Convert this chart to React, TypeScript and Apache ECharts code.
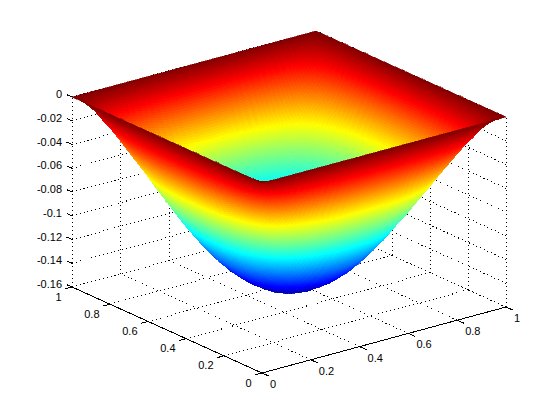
import React, { useEffect, useRef } from "react";
import * as echarts from "echarts";

// surface heights, rows along y (0 .. 1), columns along x (0 .. 1), step 0.05
const GRID = [0, 0.05, 0.1, 0.15, 0.2, 0.25, 0.3, 0.35, 0.4, 0.45, 0.5, 0.55, 0.6, 0.65, 0.7, 0.75, 0.8, 0.85, 0.9, 0.95, 1];
const Z_ROWS = [
  [0,0,0,0,0,0,0,0,0,0,0,0,0,0,0,0,0,0,0,0,0],
  [0,-.0085,-.0156,-.0205,-.0239,-.0265,-.0288,-.0307,-.0319,-.0323,-.0324,-.0323,-.0319,-.0307,-.0288,-.0265,-.0239,-.0205,-.0156,-.0085,0],
  [0,-.0156,-.0273,-.0367,-.0434,-.0487,-.0531,-.0566,-.0589,-.0599,-.0602,-.0599,-.0589,-.0566,-.0531,-.0487,-.0434,-.0367,-.0273,-.0156,0],
  [0,-.0205,-.0367,-.0495,-.0593,-.067,-.0734,-.0783,-.0816,-.0832,-.0836,-.0832,-.0816,-.0783,-.0734,-.067,-.0593,-.0495,-.0367,-.0205,0],
  [0,-.0239,-.0434,-.0593,-.0721,-.0819,-.09,-.0962,-.1003,-.1025,-.1031,-.1025,-.1003,-.0962,-.09,-.0819,-.0721,-.0593,-.0434,-.0239,0],
  [0,-.0265,-.0487,-.067,-.0819,-.0938,-.1033,-.1107,-.1156,-.1182,-.119,-.1182,-.1156,-.1107,-.1033,-.0938,-.0819,-.067,-.0487,-.0265,0],
  [0,-.0288,-.0531,-.0734,-.09,-.1033,-.1139,-.1221,-.1277,-.1307,-.1315,-.1307,-.1277,-.1221,-.1139,-.1033,-.09,-.0734,-.0531,-.0288,0],
  [0,-.0307,-.0566,-.0783,-.0962,-.1107,-.1221,-.1307,-.1368,-.1401,-.1411,-.1401,-.1368,-.1307,-.1221,-.1107,-.0962,-.0783,-.0566,-.0307,0],
  [0,-.0319,-.0589,-.0816,-.1003,-.1156,-.1277,-.1368,-.1431,-.1466,-.1477,-.1466,-.1431,-.1368,-.1277,-.1156,-.1003,-.0816,-.0589,-.0319,0],
  [0,-.0323,-.0599,-.0832,-.1025,-.1182,-.1307,-.1401,-.1466,-.1505,-.1516,-.1505,-.1466,-.1401,-.1307,-.1182,-.1025,-.0832,-.0599,-.0323,0],
  [0,-.0324,-.0602,-.0836,-.1031,-.119,-.1315,-.1411,-.1477,-.1516,-.1529,-.1516,-.1477,-.1411,-.1315,-.119,-.1031,-.0836,-.0602,-.0324,0],
  [0,-.0323,-.0599,-.0832,-.1025,-.1182,-.1307,-.1401,-.1466,-.1505,-.1516,-.1505,-.1466,-.1401,-.1307,-.1182,-.1025,-.0832,-.0599,-.0323,0],
  [0,-.0319,-.0589,-.0816,-.1003,-.1156,-.1277,-.1368,-.1431,-.1466,-.1477,-.1466,-.1431,-.1368,-.1277,-.1156,-.1003,-.0816,-.0589,-.0319,0],
  [0,-.0307,-.0566,-.0783,-.0962,-.1107,-.1221,-.1307,-.1368,-.1401,-.1411,-.1401,-.1368,-.1307,-.1221,-.1107,-.0962,-.0783,-.0566,-.0307,0],
  [0,-.0288,-.0531,-.0734,-.09,-.1033,-.1139,-.1221,-.1277,-.1307,-.1315,-.1307,-.1277,-.1221,-.1139,-.1033,-.09,-.0734,-.0531,-.0288,0],
  [0,-.0265,-.0487,-.067,-.0819,-.0938,-.1033,-.1107,-.1156,-.1182,-.119,-.1182,-.1156,-.1107,-.1033,-.0938,-.0819,-.067,-.0487,-.0265,0],
  [0,-.0239,-.0434,-.0593,-.0721,-.0819,-.09,-.0962,-.1003,-.1025,-.1031,-.1025,-.1003,-.0962,-.09,-.0819,-.0721,-.0593,-.0434,-.0239,0],
  [0,-.0205,-.0367,-.0495,-.0593,-.067,-.0734,-.0783,-.0816,-.0832,-.0836,-.0832,-.0816,-.0783,-.0734,-.067,-.0593,-.0495,-.0367,-.0205,0],
  [0,-.0156,-.0273,-.0367,-.0434,-.0487,-.0531,-.0566,-.0589,-.0599,-.0602,-.0599,-.0589,-.0566,-.0531,-.0487,-.0434,-.0367,-.0273,-.0156,0],
  [0,-.0085,-.0156,-.0205,-.0239,-.0265,-.0288,-.0307,-.0319,-.0323,-.0324,-.0323,-.0319,-.0307,-.0288,-.0265,-.0239,-.0205,-.0156,-.0085,0],
  [0,0,0,0,0,0,0,0,0,0,0,0,0,0,0,0,0,0,0,0,0],
];

const XY_TICKS = [0, 0.2, 0.4, 0.6, 0.8, 1];
const XY_LABELS = ["0", "0.2", "0.4", "0.6", "0.8", "1"];
const Z_TICKS = [0, -0.02, -0.04, -0.06, -0.08, -0.1, -0.12, -0.14, -0.16];
const Z_LABELS = ["0", "-0.02", "-0.04", "-0.06", "-0.08", "-0.1", "-0.12", "-0.14", "-0.16"];

const Z_MIN = -0.153;
const Z_FLOOR = -0.16;
const COLOR_STEP = 0.002;
const FONT = "11px 'Liberation Sans', Arial, sans-serif";

// orthographic view: front floor corner and the screen vector of one unit along each data axis
const VIEW = {
  origin: [262, 373],
  ex: [244, -66],
  ey: [-190, -86],
  ez: [0, -1187.5],
};

function project(x: number, y: number, z: number): [number, number] {
  const dz = z - Z_FLOOR;
  return [
    VIEW.origin[0] + x * VIEW.ex[0] + y * VIEW.ey[0] + dz * VIEW.ez[0],
    VIEW.origin[1] + x * VIEW.ex[1] + y * VIEW.ey[1] + dz * VIEW.ez[1],
  ];
}

function jet(t: number): string {
  const c = (v: number) => Math.round(255 * Math.max(0, Math.min(1, v)));
  return `rgb(${c(1.5 - Math.abs(4 * t - 3))},${c(1.5 - Math.abs(4 * t - 2))},${c(1.5 - Math.abs(4 * t - 1))})`;
}

type Seg = { a: number[]; b: number[]; dotted: boolean };

function buildFrame(): { segs: Seg[]; labels: any[] } {
  const segs: Seg[] = [];
  const labels: any[] = [];
  const zTop = 0;
  segs.push({ a: [0, 0, Z_FLOOR], b: [1, 0, Z_FLOOR], dotted: false });
  segs.push({ a: [0, 0, Z_FLOOR], b: [0, 1, Z_FLOOR], dotted: false });
  XY_TICKS.forEach((t, i) => {
    segs.push({ a: [t, 0, Z_FLOOR], b: [t, 1, Z_FLOOR], dotted: true });
    segs.push({ a: [0, t, Z_FLOOR], b: [1, t, Z_FLOOR], dotted: true });
    segs.push({ a: [t, 1, Z_FLOOR], b: [t, 1, zTop], dotted: true });
    segs.push({ a: [1, t, Z_FLOOR], b: [1, t, zTop], dotted: true });
    segs.push({ a: [t, 0, Z_FLOOR], b: [t, -0.036, Z_FLOOR], dotted: false });
    segs.push({ a: [0, t, Z_FLOOR], b: [-0.028, t, Z_FLOOR], dotted: false });
    labels.push({ kind: "x", t, text: XY_LABELS[i] });
    labels.push({ kind: "y", t, text: XY_LABELS[i] });
  });
  Z_TICKS.forEach((z, i) => {
    segs.push({ a: [0, 1, z], b: [1, 1, z], dotted: true });
    segs.push({ a: [1, 1, z], b: [1, 0, z], dotted: true });
    segs.push({ a: [0, 1, z], b: [0, 1.028, z], dotted: false });
    labels.push({ kind: "z", z, text: Z_LABELS[i] });
  });
  return { segs, labels };
}

function cellZ(i: number, j: number, u: number, v: number): number {
  const z00 = Z_ROWS[j][i];
  const z10 = Z_ROWS[j][i + 1];
  const z01 = Z_ROWS[j + 1][i];
  const z11 = Z_ROWS[j + 1][i + 1];
  return z00 * (1 - u) * (1 - v) + z10 * u * (1 - v) + z01 * (1 - u) * v + z11 * u * v;
}

// number of colour facets a cell needs along each side, so colour steps stay small on steep parts
function cellDivisions(i: number, j: number): [number, number] {
  const z00 = Z_ROWS[j][i];
  const z10 = Z_ROWS[j][i + 1];
  const z01 = Z_ROWS[j + 1][i];
  const z11 = Z_ROWS[j + 1][i + 1];
  const du = Math.max(Math.abs(z10 - z00), Math.abs(z11 - z01));
  const dv = Math.max(Math.abs(z01 - z00), Math.abs(z11 - z10));
  const n = (d: number) => Math.max(2, Math.min(16, Math.ceil(d / COLOR_STEP)));
  return [n(du), n(dv)];
}

export default function App() {
  const ref = useRef<HTMLDivElement>(null);
  useEffect(() => {
    if (!ref.current) return;
    document.body.style.margin = "0";
    const chart = echarts.init(ref.current, undefined, { renderer: "svg" });
    const { segs, labels } = buildFrame();

    const cells: number[][] = [];
    for (let j = GRID.length - 2; j >= 0; j--) {
      for (let i = GRID.length - 2; i >= 0; i--) cells.push([i, j]);
    }

    chart.setOption({
      animation: false,
      backgroundColor: "#fff",
      grid: { left: 0, right: 0, top: 0, bottom: 0 },
      xAxis: { type: "value", min: 0, max: 560, show: false },
      yAxis: { type: "value", min: 0, max: 420, inverse: true, show: false },
      tooltip: { show: false },
      series: [
        {
          type: "custom",
          name: "frame",
          silent: true,
          clip: false,
          data: segs.map((_, k) => [k]),
          encode: { x: 0 },
          renderItem: (params: any, api: any) => {
            const s = segs[params.dataIndex];
            const p1 = api.coord(project(s.a[0], s.a[1], s.a[2]));
            const p2 = api.coord(project(s.b[0], s.b[1], s.b[2]));
            return {
              type: "line",
              shape: { x1: p1[0], y1: p1[1], x2: p2[0], y2: p2[1] },
              style: { stroke: "#000", lineWidth: 1, lineDash: s.dotted ? [1, 3] : undefined },
            };
          },
        },
        {
          type: "custom",
          name: "labels",
          silent: true,
          clip: false,
          data: labels.map((_, k) => [k]),
          encode: { x: 0 },
          renderItem: (params: any, api: any) => {
            const l = labels[params.dataIndex];
            let p: number[];
            let align = "right";
            if (l.kind === "x") {
              const q = api.coord(project(l.t, 0, Z_FLOOR));
              p = [q[0] + 8, q[1] + 11];
              align = "left";
            } else if (l.kind === "y") {
              const q = api.coord(project(0, l.t, Z_FLOOR));
              p = [q[0] - 10.5, q[1] + 9.5];
            } else {
              const q = api.coord(project(0, 1, l.z));
              p = [q[0] - 10, q[1] - 3];
            }
            return {
              type: "text",
              style: { text: l.text, x: p[0], y: p[1], font: FONT, fill: "#000", align, verticalAlign: "middle" },
            };
          },
        },
        {
          type: "custom",
          name: "surface",
          silent: true,
          clip: false,
          data: cells,
          encode: { x: 0, y: 1 },
          renderItem: (params: any, api: any) => {
            const [i, j] = cells[params.dataIndex];
            const x0 = GRID[i], x1 = GRID[i + 1], y0 = GRID[j], y1 = GRID[j + 1];
            const [nu, nv] = cellDivisions(i, j);
            const children: any[] = [];
            for (let b = nv - 1; b >= 0; b--) {
              for (let a = nu - 1; a >= 0; a--) {
                const corners = [[a, b], [a + 1, b], [a + 1, b + 1], [a, b + 1]];
                const pts = corners.map(([ca, cb]) => {
                  const u = ca / nu, v = cb / nv;
                  return api.coord(project(x0 + (x1 - x0) * u, y0 + (y1 - y0) * v, cellZ(i, j, u, v)));
                });
                const zc = cellZ(i, j, (a + 0.5) / nu, (b + 0.5) / nv);
                const col = jet((zc - Z_MIN) / (0 - Z_MIN));
                children.push({
                  type: "polygon",
                  shape: { points: pts },
                  style: { fill: col, stroke: col, lineWidth: 0.6 },
                });
              }
            }
            return { type: "group", children };
          },
        },
      ],
    });
    const svg = ref.current.querySelector("svg");
    if (svg) (svg as any).style.shapeRendering = "crispEdges";
    return () => chart.dispose();
  }, []);
  return <div ref={ref} style={{ width: 560, height: 420 }} />;
}
